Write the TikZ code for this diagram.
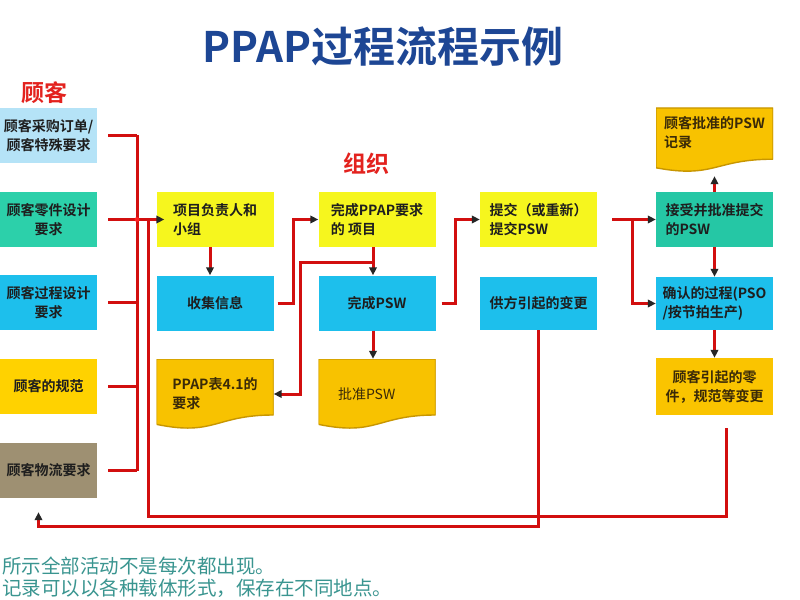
\documentclass[tikz,border=0pt]{standalone}
\usepackage{fontspec}
\setmainfont{Noto Sans CJK SC}[BoldFont={Noto Sans CJK SC Bold}]
\usetikzlibrary{arrows.meta,calc}
\definecolor{lblue}{HTML}{B5E3F7}
\definecolor{tealA}{HTML}{2CD0AA}
\definecolor{tealB}{HTML}{25C7A5}
\definecolor{cyanA}{HTML}{1DBFEC}
\definecolor{goldA}{HTML}{FFD200}
\definecolor{taupe}{HTML}{9E9072}
\definecolor{yel}{HTML}{F6F61E}
\definecolor{docgold}{HTML}{F8C200}
\definecolor{docedge}{HTML}{C89600}
\definecolor{orgold}{HTML}{FAC400}
\definecolor{lred}{HTML}{D20F0F}
\definecolor{dotred}{HTML}{FF2020}
\definecolor{titleblue}{HTML}{1D4694}
\definecolor{labelred}{HTML}{E3221E}
\definecolor{notecol}{HTML}{3A9590}
\definecolor{txt}{HTML}{1E1E1E}
\definecolor{txtbrown}{HTML}{3A2A08}
\newcommand\boxfont{\fontsize{14bp}{19bp}\selectfont\bfseries}
\begin{document}
\begin{tikzpicture}[x=1bp,y=-1bp,
  box/.style={minimum width=117bp, minimum height=55bp, inner sep=0pt, font=\boxfont, text=txt, align=left},
  leftbox/.style={box, minimum width=97bp, align=center},
  docbox/.style={box, minimum height=#1, text=txtbrown, path picture={
    \path[fill=docgold, draw=docedge, line width=1.4bp]
      (path picture bounding box.north west) -- (path picture bounding box.north east)
      -- ($(path picture bounding box.north east)!0.8!(path picture bounding box.south east)$)
      .. controls ($(path picture bounding box.north)!0.8!(path picture bounding box.south)$)
      and ($(path picture bounding box.north)!1.106!(path picture bounding box.south)$) ..
      ($(path picture bounding box.north west)!0.934!(path picture bounding box.south west)$) -- cycle;
  }},
  heading/.style={font=\fontsize{23bp}{26bp}\selectfont\bfseries, text=labelred},
  note/.style={font=\fontsize{19.5bp}{22bp}\selectfont, text=notecol, anchor=west, inner sep=0pt},
  conn/.style={draw=lred, line width=3bp},
  arr/.style={conn, -{Triangle[length=8bp,width=7.5bp,color=black!85]}}
]
\useasboundingbox (0,0) rectangle (800,600);
\fill[white] (0,0) rectangle (800,600);
\clip (0,0) rectangle (800,600);

% title and headings
\node[font=\fontsize{42bp}{46bp}\selectfont\bfseries, text=titleblue] (title) at (383,47) {PPAP过程流程示例};
\node[heading] (hcust) at (44,93) {顾客};
\node[heading] (horg) at (366,164) {组织};

% customer column
\node[leftbox, fill=lblue] (L1) at (48.5,135.5) {顾客采购订单/\\顾客特殊要求};
\node[leftbox, fill=tealA] (L2) at (48.5,219.5) {顾客零件设计\\要求};
\node[leftbox, fill=cyanA] (L3) at (48.5,302.5) {顾客过程设计\\要求};
\node[leftbox, fill=goldA] (L4) at (48.5,386.5) {顾客的规范};
\node[leftbox, fill=taupe] (L5) at (48.5,470.5) {顾客物流要求};

% organisation columns
\node[box, fill=yel] (P1) at (215,219.5) {项目负责人和\\小组};
\node[box, fill=cyanA, align=center] (P2) at (215,303) {收集信息};
\node[docbox=70bp] (P3) at (215,394) {PPAP表4.1的\\要求};

\node[box, fill=yel] (Q1) at (377,219.5) {完成PPAP要求\\的 项目};
\node[box, fill=cyanA, align=center] (Q2) at (377,303) {完成PSW};
\node[docbox=70bp, font=\fontsize{14bp}{19bp}\selectfont, text width=78bp] (Q3) at (377,394) {批准PSW};

\node[box, fill=yel] (R1) at (538.5,219.5) {提交（或重新）\\提交PSW};
\node[box, fill=cyanA, minimum height=53bp, align=center] (R2) at (538.5,303.5) {供方引起的变更};

\node[docbox=64bp, text depth=16bp] (T1) at (714.5,140) {顾客批准的PSW\\记录};
\node[box, fill=tealB] (T2) at (714.5,219.5) {接受并批准提交\\的PSW};
\node[box, fill=cyanA, minimum height=53bp] (T3) at (714.5,303.5) {确认的过程(PSO\\/按节拍生产)};
\node[box, fill=orgold, minimum height=57bp, align=center, text=txtbrown] (T4) at (714.5,386.5) {顾客引起的零\\件，规范等变更};

% notes
\node[note] (n1) at (2,566) {所示全部活动不是每次都出现。};
\node[note] (n2) at (2,588) {记录可以以各种载体形式，保存在不同地点。};

% helper coordinates
\coordinate (bus) at (137,0);
\coordinate (jx) at (148,0);
\coordinate (k1) at (293,0);
\coordinate (k2) at (300,262);
\coordinate (k3) at (455,0);
\coordinate (k4) at (632,0);
\coordinate (fbL) at (148,516);
\coordinate (qd) at ([xshift=-4bp]Q1.south);
\coordinate (qe) at ([xshift=-4bp]Q2.south);

% customer bus
\foreach \n in {1,...,5} \draw[conn] ([xshift=11bp]L\n.east) -- (L\n.east -| bus);
\draw[conn] (L1.east -| bus) -- (L5.east -| bus);
\draw[arr, shorten >=-8bp] (L2.east -| bus) -- (P1.west);

% feedback loops
\draw[conn] ([xshift=12bp,yshift=-13bp]T4.south) |- (fbL) -- (L2.east -| jx);
\draw[arr] (R2.south) |- ([yshift=-28bp,xshift=-10bp]L5.south) -- ([yshift=-14bp,xshift=-10bp]L5.south);

% organisation flow
\draw[arr] ([xshift=-5bp]P1.south) -- ([xshift=-5bp]P2.north);
\draw[arr] ([xshift=4bp]P2.east) -- (P2.east -| k1) |- (Q1.west);
\draw[arr] (qd) -- ([xshift=-4bp]Q2.north);
\draw[arr] (qd |- k2) -- (k2) |- (P3.east);
\draw[arr] (qe) -- (qe |- Q3.north);
\draw[arr] ([xshift=6bp]Q2.east) -- (Q2.east -| k3) |- (R1.west);
\draw[arr] ([xshift=15bp]R1.east) -- (T2.west);
\draw[arr] (R1.east -| k4) |- (T3.west);
\draw[arr, shorten >=4bp] (T2.north) -- (T1.south);
\draw[arr] (T2.south) -- (T3.north);
\draw[arr] (T3.south) -- (T4.north);

\fill[dotred] (L2.east -| bus) circle (2.4bp);
\end{tikzpicture}
\end{document}
